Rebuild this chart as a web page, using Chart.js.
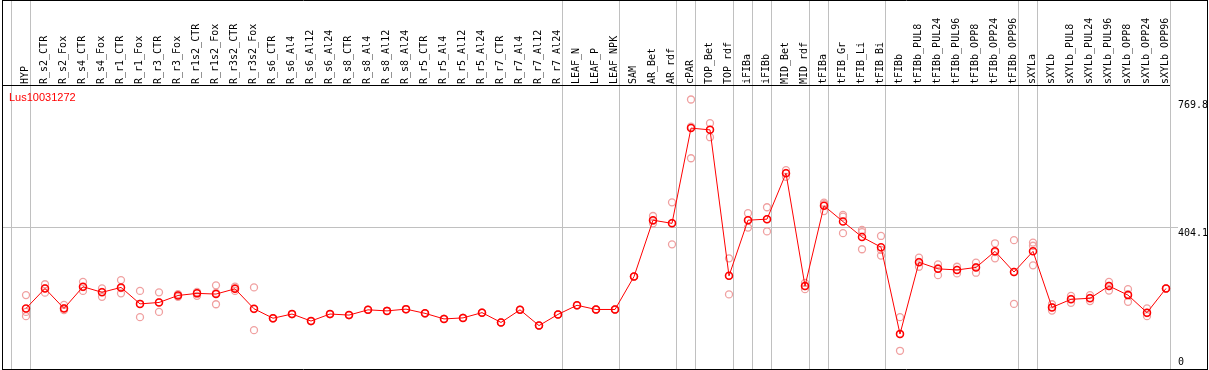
<!DOCTYPE html>
<html><head><meta charset="utf-8">
<script src="https://cdn.jsdelivr.net/npm/chart.js@4"></script>
<style>html,body{margin:0;padding:0;background:#fff;overflow:hidden}#wrap{width:1209px;height:370px;position:relative}</style>
</head><body><div id="wrap"><canvas id="c" width="1209" height="370"></canvas></div>
<script>
const categories = ['HYP','R_s2_CTR','R_s2_Fox','R_s4_CTR','R_s4_Fox','R_r1_CTR','R_r1_Fox','R_r3_CTR','R_r3_Fox','R_r1s2_CTR','R_r1s2_Fox','R_r3s2_CTR','R_r3s2_Fox','R_s6_CTR','R_s6_Al4','R_s6_Al12','R_s6_Al24','R_s8_CTR','R_s8_Al4','R_s8_Al12','R_s8_Al24','R_r5_CTR','R_r5_Al4','R_r5_Al12','R_r5_Al24','R_r7_CTR','R_r7_Al4','R_r7_Al12','R_r7_Al24','LEAF_N','LEAF_P','LEAF_NPK','SAM','AR_Bet','AR_rdf','cPAR','TOP_Bet','TOP_rdf','iFIBa','iFIBb','MID_Bet','MID_rdf','tFIBa','tFIB_Gr','tFIB_Li','tFIB_Bi','tFIBb','tFIBb_PUL8','tFIBb_PUL24','tFIBb_PUL96','tFIBb_OPP8','tFIBb_OPP24','tFIBb_OPP96','sXYLa','sXYLb','sXYLb_PUL8','sXYLb_PUL24','sXYLb_PUL96','sXYLb_OPP8','sXYLb_OPP24','sXYLb_OPP96'];
const meanValues = [173,230,173,235,219,233,186,190,210,216,214,229,172,145,157,137,157,154,169,166,171,159,143,146,161,133,169,124,156,182,170,170,264,425,416,688,683,266,425,428,559,237,466,421,377,348,100,305,286,283,290,336,277,336,176,199,202,237,211,161,230];
const rep1 = [211,242,183,249,230,254,223,219,214,220,239,235,233,145,157,137,157,154,169,166,171,159,143,146,161,133,169,124,156,182,170,170,264,437,476,769.8,702,316,445,462,568,228,475,435,397,380,148,318,299,292,304,359,368,361,185,209,211,249,228,173,230];
const rep2 = [163,218,168,223,206,216,148,163,206,209,185,223,111,145,157,137,157,154,169,166,171,159,143,146,161,133,169,124,156,182,170,170,264,416,356,602,662,213,404,393,549,246,451,388,342,324,52,292,268,273,275,316,186,352,167,189,194,224,192,151,230];
const rep3 = [151,231,174,234,220,231,186,191,211,217,217,231,171,145,157,137,157,154,169,166,171,159,143,146,161,133,169,124,156,182,170,170,264,423,417,692,683,266,426,428,560,237,471,440,391,340,100,306,288,283,291,334,277,296,177,200,203,237,214,160,230];
const yTickValues = [0, 404.1, 769.8];
const yTickLabels = ['0', '404.1', '769.8'];
const groupEndIndices = [-1, 0, 28, 31, 34, 35, 37, 38, 39, 41, 42, 45, 52, 53, 60];
const geneTitle = 'Lus10031272';
const yAxisMax = 808.29;

const framePlugin = {
  id: 'frame',
  beforeDatasetsDraw(chart) {
    const ctx = chart.ctx, x = chart.scales.x, y = chart.scales.y;
    const step = x.getPixelForValue(1) - x.getPixelForValue(0);
    ctx.save();
    ctx.lineWidth = 1;
    ctx.strokeStyle = '#c0c0c0';
    groupEndIndices.forEach(i => {
      const px = Math.floor(x.getPixelForValue(0) + (i + 0.5) * step - 5) + 0.5;
      ctx.beginPath(); ctx.moveTo(px, 0); ctx.lineTo(px, 369); ctx.stroke();
    });
    const gy = Math.floor(y.getPixelForValue(yTickValues[1])) + 0.5;
    ctx.beginPath(); ctx.moveTo(2, gy); ctx.lineTo(1178, gy); ctx.stroke();
    ctx.strokeStyle = '#000';
    ctx.beginPath();
    ctx.moveTo(2, 0.5); ctx.lineTo(1208, 0.5);
    ctx.moveTo(2.5, 0); ctx.lineTo(2.5, 370);
    ctx.moveTo(1207.5, 0); ctx.lineTo(1207.5, 370);
    ctx.moveTo(2, 369.5); ctx.lineTo(1208, 369.5);
    const lastPx = Math.floor(x.getPixelForValue(0) + (60 + 0.5) * step - 5);
    ctx.moveTo(2, 85.5); ctx.lineTo(lastPx, 85.5);
    ctx.stroke();
    ctx.fillStyle = '#ff0000';
    ctx.font = '11px "Liberation Sans", Arial, sans-serif';
    ctx.textBaseline = 'alphabetic';
    ctx.textAlign = 'left';
    ctx.fillText(geneTitle, 9, 100.5);
    ctx.fillStyle = '#000';
    ctx.font = '10px "DejaVu Sans Mono", monospace';
    yTickValues.forEach((v, k) => {
      const py = y.getPixelForValue(v);
      ctx.fillText(yTickLabels[k], 1178, v === 0 ? py - 4 : py + 8.5);
    });
    ctx.restore();
  }
};

new Chart(document.getElementById('c'), {
  type: 'line',
  data: {
    labels: categories,
    datasets: [
      { data: meanValues, order: 0, borderColor: '#ff0000', borderWidth: 1, pointRadius: 3.5, pointBorderWidth: 1.5, pointBorderColor: '#ff0000', pointBackgroundColor: 'rgba(0,0,0,0)', tension: 0, clip: false },
      { data: rep1, order: 1, showLine: false, pointRadius: 3.5, pointBorderWidth: 1.3, pointBorderColor: '#f0a0a0', pointBackgroundColor: 'rgba(0,0,0,0)', clip: false },
      { data: rep2, order: 1, showLine: false, pointRadius: 3.5, pointBorderWidth: 1.3, pointBorderColor: '#f0a0a0', pointBackgroundColor: 'rgba(0,0,0,0)', clip: false },
      { data: rep3, order: 1, showLine: false, pointRadius: 3.5, pointBorderWidth: 1.3, pointBorderColor: '#f0a0a0', pointBackgroundColor: 'rgba(0,0,0,0)', clip: false }
    ]
  },
  options: {
    responsive: false,
    animation: false,
    devicePixelRatio: 1,
    layout: { autoPadding: false, padding: { left: 16.5, right: 33.5, top: 0, bottom: 1 } },
    plugins: { legend: { display: false }, tooltip: { enabled: false }, title: { display: false } },
    scales: {
      x: {
        type: 'category', position: 'top', offset: true,
        grid: { display: false, drawTicks: false }, border: { display: false },
        ticks: { autoSkip: false, minRotation: 90, maxRotation: 90, padding: 2, labelOffset: 11, color: '#000', font: { family: '"DejaVu Sans Mono", monospace', size: 10 } },
        afterFit(s) { s.height = 86; }
      },
      y: { display: false, min: 0, max: yAxisMax }
    }
  },
  plugins: [framePlugin]
});
</script></body></html>
